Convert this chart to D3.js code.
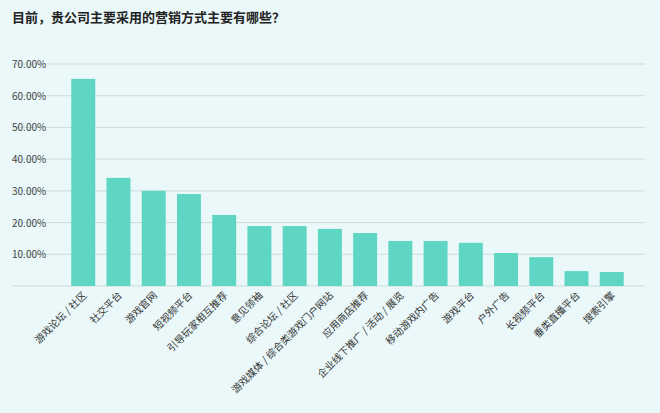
<!DOCTYPE html>
<html><head><meta charset="utf-8">
<script src="https://cdn.jsdelivr.net/npm/d3@7"></script>
<style>body{margin:0;background:#eaf8f9;font-family:"Noto Sans CJK SC","Noto Sans",sans-serif}</style>
</head><body><svg width="660" height="413"></svg>
<script>
var categories = ["游戏论坛 / 社区","社交平台","游戏官网","短视频平台","引导玩家相互推荐","意见领袖","综合论坛 / 社区","游戏媒体 / 综合类游戏门户网站","应用商店推荐","企业线下推广 / 活动 / 展览","移动游戏内广告","游戏平台","户外广告","长视频平台","垂类直播平台","搜索引擎"];
var values = [65.3,34.1,30.0,29.0,22.4,18.9,18.9,18.0,16.7,14.2,14.2,13.6,10.4,9.1,4.7,4.4];
var yTicks = [0,10,20,30,40,50,60,70];

var svg = d3.select("svg");
var m = {left:60, right:25, top:64, bottom:127};
var w = 660 - m.left - m.right, h = 413 - m.top - m.bottom;

svg.append("rect").attr("width",660).attr("height",413).attr("fill","#eaf8f9");
svg.append("text").attr("x",12).attr("y",22).text("目前，贵公司主要采用的营销方式主要有哪些？")
  .attr("font-size",13).attr("font-weight","bold").attr("fill","#222");

var x = d3.scaleBand().domain(categories).range([m.left, m.left+w]).padding(0.32);
var y = d3.scaleLinear().domain([0,70]).range([m.top+h, m.top]);

var g = svg.append("g");
g.selectAll(".grid").data(yTicks).enter().append("line")
  .attr("x1",m.left-48).attr("x2",m.left+w+10)
  .attr("y1",function(d){return y(d);}).attr("y2",function(d){return y(d);})
  .attr("stroke","#c9dcdc").attr("stroke-width",1);
g.selectAll(".yl").data(yTicks.slice(1)).enter().append("text")
  .attr("x",12).attr("y",function(d){return y(d)+4;})
  .text(function(d){return d.toFixed(2)+"%";})
  .attr("font-size",10).attr("fill","#444");

g.selectAll(".bar").data(values).enter().append("rect")
  .attr("x",function(d,i){return x(categories[i]);})
  .attr("y",function(d){return y(d);})
  .attr("width",x.bandwidth())
  .attr("height",function(d){return y(0)-y(d);})
  .attr("fill","#5fd6c4");

g.selectAll(".xl").data(categories).enter().append("text")
  .attr("transform",function(d){return "translate("+(x(d)+x.bandwidth()/2+4)+","+(y(0)+10)+") rotate(-45)";})
  .attr("text-anchor","end").attr("font-size",10).attr("fill","#333")
  .text(function(d){return d;});
</script></body></html>
